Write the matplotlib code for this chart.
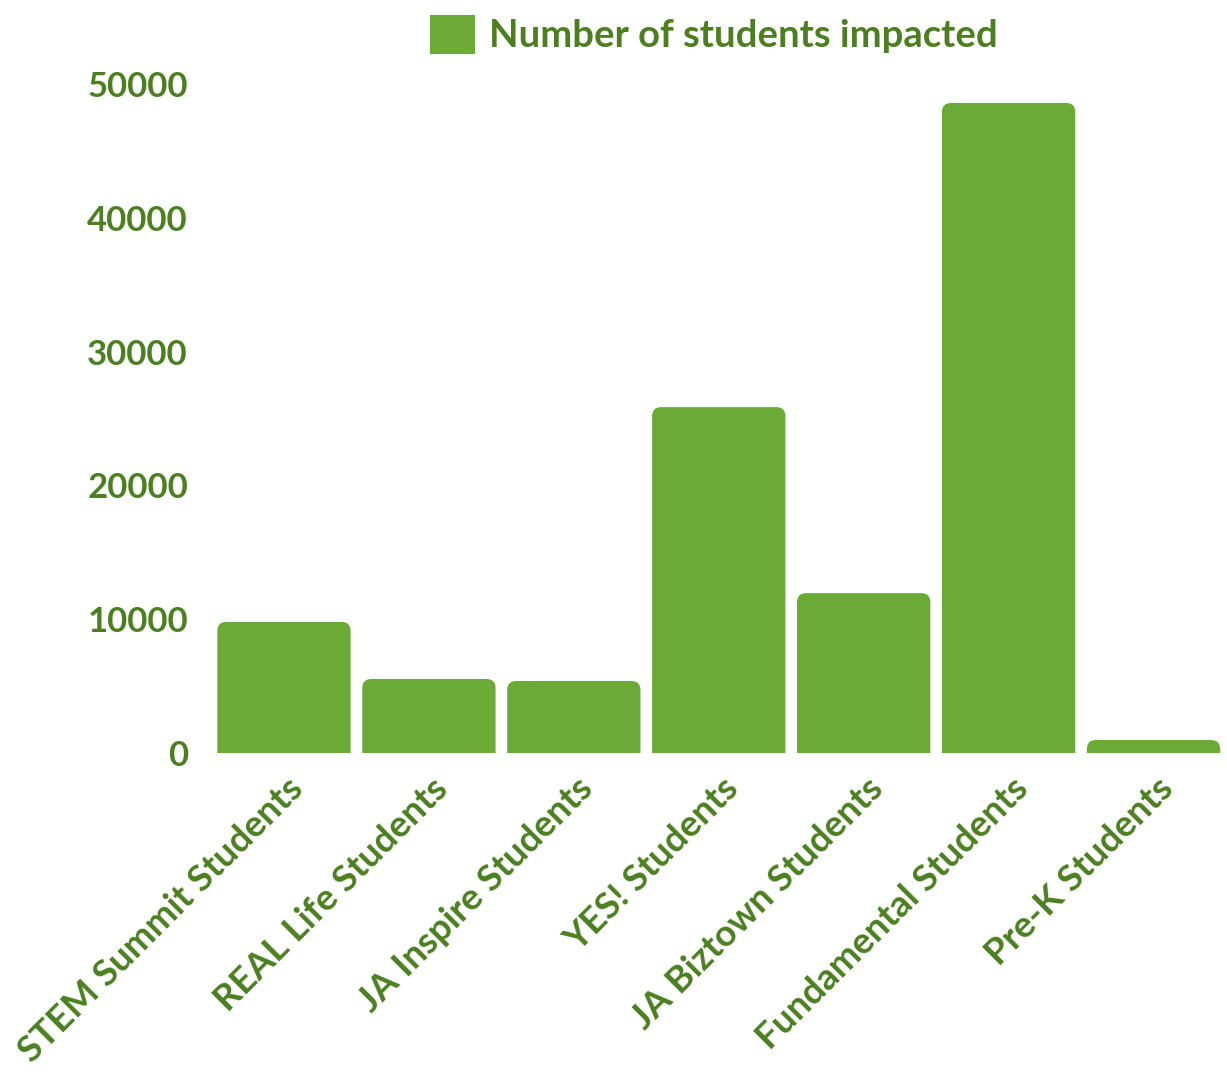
import matplotlib
matplotlib.use('Agg')
import matplotlib.pyplot as plt
from matplotlib.patches import FancyBboxPatch, Patch
import numpy as np

# donnees
programmes = ['STEM Summit Students', 'REAL Life Students', 'JA Inspire Students',
              'YES! Students', 'JA Biztown Students', 'Fundamental Students',
              'Pre-K Students']
eleves = [9800, 5530, 5380, 25850, 11950, 48580, 970]
yticks_val = [0, 10000, 20000, 30000, 40000, 50000]

vert_barre = '#6caa38'
vert_texte = '#4b7f1f'
plt.rcParams['font.family'] = ['Lato', 'DejaVu Sans']
plt.rcParams['font.weight'] = 'bold'

W, H, dpi = 1227, 1072, 100
fig = plt.figure(figsize=(W/dpi, H/dpi), dpi=dpi)
# axes placés en pixels
x0, x1 = 211.5, 1226
y0, y1 = 753, 84
ax = fig.add_axes([x0/W, 1-y0/H, (x1-x0)/W, (y0-y1)/H])
ax.set_xlim(-0.5, len(programmes)-0.5)
ax.set_ylim(0, 50000)

# barres avec coins arrondis en haut (le bas est coupé par l'axe)
larg = 0.92
r_px = 9
dx_px = (x1-x0)/len(programmes)          # pixels par unité x
dy_px = (y0-y1)/50000                    # pixels par unité y
r_x = r_px/dx_px
aspect = (1/dy_px)/(1/dx_px)
for i, v in enumerate(eleves):
    p = FancyBboxPatch((i-larg/2, -r_px/dy_px*2), larg, v + r_px/dy_px*2,
                       boxstyle='round,pad=0,rounding_size=%f' % r_x,
                       mutation_aspect=aspect,
                       facecolor=vert_barre, edgecolor='none', clip_on=True)
    ax.add_patch(p)

ax.set_yticks(yticks_val)
ax.set_yticklabels([str(t) for t in yticks_val], color=vert_texte, fontsize=25, fontweight='bold')
# étiquettes x un peu décalées à droite du centre des barres (ticks invisibles)
decal = 14/dx_px
ax.set_xticks(np.arange(len(programmes)) + decal)
ax.set_xticklabels(programmes, rotation=45, ha='right', va='center', rotation_mode='anchor',
                   color=vert_texte, fontsize=26.5, fontweight='bold')
ax.tick_params(axis='both', length=0)
ax.tick_params(axis='x', pad=22)
ax.tick_params(axis='y', pad=17)
for sp in ax.spines.values():
    sp.set_visible(False)

h = [Patch(facecolor=vert_barre, edgecolor='none', label='Number of students impacted')]
leg = fig.legend(handles=h, loc='center', bbox_to_anchor=(0.5815, 0.968), frameon=False,
                 fontsize=27.5, handlelength=1.2, handleheight=1.2, handletextpad=0.35)
for t in leg.get_texts():
    t.set_color(vert_texte)
    t.set_fontweight('bold')

plt.savefig('out.png', dpi=dpi)
